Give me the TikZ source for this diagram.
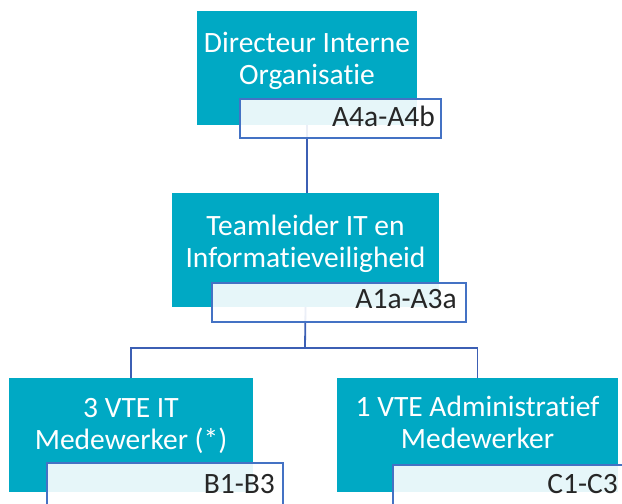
\documentclass[tikz,border=0pt]{standalone}
\usepackage{fontspec}
\setmainfont{Carlito}[Ligatures={NoCommon}]
\definecolor{tealfill}{RGB}{0,169,196}
\definecolor{lblborder}{RGB}{68,114,196}
\definecolor{connblue}{RGB}{60,95,180}
\definecolor{lbltext}{RGB}{38,38,38}
\begin{document}
\begin{tikzpicture}[x=1pt,y=-1pt,
  tealbox/.style={fill=tealfill, draw=none, inner sep=0pt},
  teallabel/.style={fill=white, fill opacity=0.9, draw=lblborder, line width=1.4pt, inner sep=0pt},
  whitetext/.style={text=white, align=center, inner sep=0pt, font=\fontsize{29.5}{32}\selectfont},
  codetext/.style={text=lbltext, inner sep=0pt, anchor=base east, font=\fontsize{29.5}{32}\selectfont},
  conn/.style={draw=connblue, line width=1.8pt}]
\useasboundingbox (0,0) rectangle (622,504);
\clip (0,0) rectangle (622,504);
% teal boxes
\node[tealbox, minimum width=220pt, minimum height=114pt] (d) at (307,68) {};
\node[tealbox, minimum width=267pt, minimum height=114pt] (t) at (305.5,250) {};
\node[tealbox, minimum width=244pt, minimum height=114pt] (b1) at (131,435) {};
\node[tealbox, minimum width=281pt, minimum height=114pt] (b2) at (477.5,435) {};
% connectors
\coordinate (bus) at (305,348);
\draw[conn] (d.south) -- (t.north -| d.south);
\draw[conn] (t.south) -- (bus);
\draw[conn] (b1.north) |- (bus) -| (b2.north);
% texts
\node[whitetext] (dtx) at (307,60.5) {Directeur Interne\\Organisatie};
\node[whitetext] (ttx) at (305.5,244) {Teamleider IT en\\Informatieveiligheid};
\node[whitetext] (b1tx) at (131,426) {3 VTE IT\\Medewerker (*)};
\node[whitetext] (b2tx) at (477.5,422.5) {1 VTE Administratief\\Medewerker};
% code labels
\node[teallabel, minimum width=201pt, minimum height=39pt] (dl) at (340.5,118.5) {};
\node[teallabel, minimum width=254pt, minimum height=39pt] (tl) at (339,302.5) {};
\node[teallabel, minimum width=236pt, minimum height=54pt] (b1l) at (165,490) {};
\node[teallabel, minimum width=257pt, minimum height=52pt] (b2l) at (521.5,491) {};
\node[codetext] (dlt) at (435,126) {A4a-A4b};
\node[codetext] (tlt) at (457,308) {A1a-A3a};
\node[codetext] (b1lt) at (275,493) {B1-B3};
\node[codetext] (b2lt) at (618,493) {C1-C3};
\end{tikzpicture}
\end{document}
